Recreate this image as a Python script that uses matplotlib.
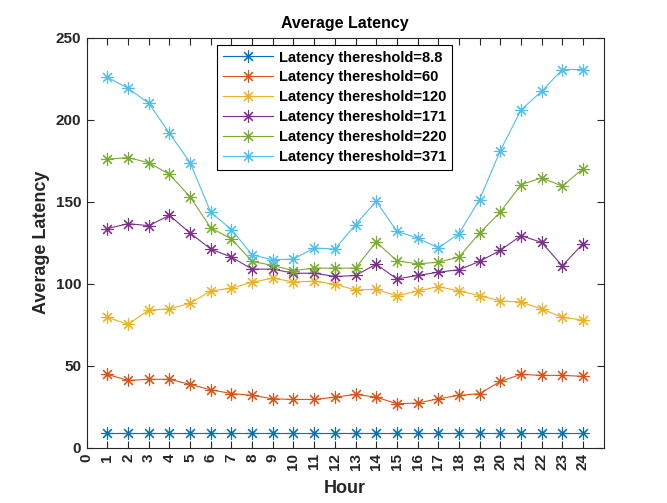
import matplotlib
matplotlib.use("Agg")
import matplotlib.pyplot as plt
import numpy as np

hours = list(range(1, 25))
labels = ["Latency thereshold=8.8", "Latency thereshold=60", "Latency thereshold=120",
          "Latency thereshold=171", "Latency thereshold=220", "Latency thereshold=371"]
colors = ["#0072BD", "#D95319", "#EDB120", "#7E2F8E", "#77AC30", "#4DBEEE"]

lat_8_8 = [8.8] * 24
lat_60 = [44.7, 41.0, 41.7, 41.7, 38.6, 35.3, 33.0, 31.9, 29.8, 29.4, 29.4, 30.8,
          32.5, 30.8, 26.8, 27.2, 29.8, 31.9, 32.9, 40.4, 44.7, 44.1, 44.1, 43.5]
lat_120 = [79.5, 75.2, 83.9, 84.6, 88.0, 95.6, 97.2, 100.9, 103.4, 101.1, 101.5, 99.7,
           96.2, 96.6, 92.5, 95.6, 98.2, 95.6, 92.7, 89.5, 88.8, 84.6, 79.5, 77.8]
lat_171 = [133.6, 136.6, 135.4, 141.7, 130.9, 121.1, 116.2, 108.9, 108.9, 106.4, 106.4, 104.4,
           105.0, 111.9, 102.9, 105.0, 107.0, 108.5, 113.6, 120.3, 129.3, 125.2, 110.9, 124.4]
lat_220 = [175.9, 176.9, 173.8, 166.7, 153.0, 134.0, 127.3, 113.6, 111.1, 108.0, 109.5, 109.5,
           109.5, 125.4, 114.0, 112.1, 113.1, 116.2, 130.9, 143.6, 160.3, 164.6, 159.5, 170.1]
lat_371 = [225.9, 219.1, 210.1, 191.8, 173.8, 143.6, 133.0, 117.6, 114.6, 115.0, 121.8, 121.1,
           136.0, 150.3, 131.9, 127.9, 121.8, 130.5, 151.3, 181.0, 205.9, 217.3, 230.6, 230.6]
series = [lat_8_8, lat_60, lat_120, lat_171, lat_220, lat_371]

xticks = list(range(0, 25))
yticks = [0, 50, 100, 150, 200, 250]

plt.rcParams['font.family'] = ['Liberation Sans', 'DejaVu Sans']
plt.rcParams['font.weight'] = 'bold'

fig = plt.figure(figsize=(6.67, 5.03), dpi=100)
ax = fig.add_axes([0.13, 0.11, 0.775, 0.815])

for vals, lab, c in zip(series, labels, colors):
    ax.plot(hours, vals, color=c, linewidth=0.8, marker=(8, 2, 0), markersize=9,
            markeredgewidth=0.8, label=lab)

ax.set_xlim(0, 25)
ax.set_ylim(0, 250)
ax.set_xticks(xticks)
ax.set_xticklabels([str(t) for t in xticks], rotation=90, fontsize=11, fontweight='bold')
ax.set_yticks(yticks)
ax.set_yticklabels([str(t) for t in yticks], fontsize=11, fontweight='bold')
ax.tick_params(direction='in', top=True, right=True, length=5, width=0.8, colors='#262626',
               labelcolor='#262626', pad=4)
for s in ax.spines.values():
    s.set_linewidth(0.8)
    s.set_color('#262626')

ax.set_title("Average Latency", fontsize=11.5, fontweight='bold', pad=7)
ax.set_xlabel("Hour", fontsize=13, fontweight='bold', color='#262626', labelpad=7)
ax.set_ylabel("Average Latency", fontsize=13, fontweight='bold', color='#262626')

leg = ax.legend(loc='upper left', bbox_to_anchor=(0.253, 0.983), borderaxespad=0,
                prop={'size': 10.5, 'weight': 'bold'}, fancybox=False, framealpha=1,
                edgecolor='black', handlelength=3.4, handletextpad=0.4,
                labelspacing=0.4, borderpad=0.4)
leg.get_frame().set_linewidth(0.8)

fig.savefig("out.png", dpi=100)
